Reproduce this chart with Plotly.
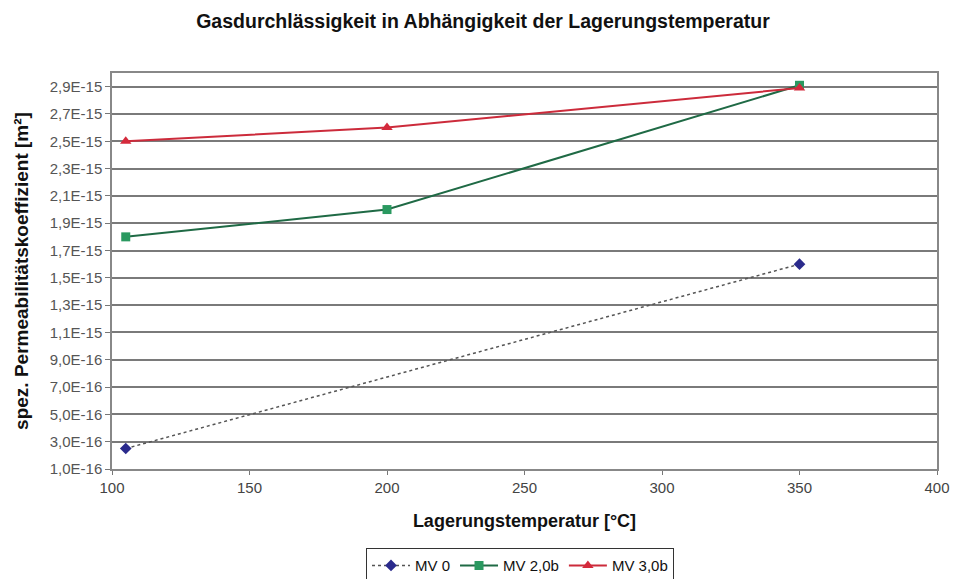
import plotly.graph_objects as go

# Data
x_mv0 = [105, 350]
y_mv0 = [2.5e-16, 1.6e-15]
x_mv2 = [105, 200, 350]
y_mv2 = [1.8e-15, 2.0e-15, 2.91e-15]
x_mv3 = [105, 200, 350]
y_mv3 = [2.5e-15, 2.6e-15, 2.89e-15]

y_tickvals = [1e-16 + i * 2e-16 for i in range(15)]
y_ticktext = ["1,0E-16", "3,0E-16", "5,0E-16", "7,0E-16", "9,0E-16", "1,1E-15", "1,3E-15",
              "1,5E-15", "1,7E-15", "1,9E-15", "2,1E-15", "2,3E-15", "2,5E-15", "2,7E-15", "2,9E-15"]
x_tickvals = [100, 150, 200, 250, 300, 350, 400]

fig = go.Figure()
fig.add_trace(go.Scatter(x=x_mv0, y=y_mv0, name="MV 0", mode="lines+markers",
                         line=dict(color="#555555", width=1.5, dash="dot"),
                         marker=dict(symbol="diamond", color="#2a2a8c", size=9)))
fig.add_trace(go.Scatter(x=x_mv2, y=y_mv2, name="MV 2,0b", mode="lines+markers",
                         line=dict(color="#1f6a45", width=2),
                         marker=dict(symbol="square", color="#2a9960", size=9)))
fig.add_trace(go.Scatter(x=x_mv3, y=y_mv3, name="MV 3,0b", mode="lines+markers",
                         line=dict(color="#cc2b3b", width=2),
                         marker=dict(symbol="triangle-up", color="#d42a3c", size=10)))

fig.update_layout(
    width=965, height=579,
    margin=dict(l=104, r=36, t=65, b=118, autoexpand=False),
    paper_bgcolor="white", plot_bgcolor="white",
    font=dict(family="Liberation Sans, Arial, sans-serif", color="#222"),
    title=dict(text="<b>Gasdurchlässigkeit in Abhängigkeit der Lagerungstemperatur</b>",
               x=(483 - 8) / 965, xanchor="center", y=1 - 13 / 579, yanchor="middle",
               font=dict(size=19.5, color="#111")),
    showlegend=True,
    legend=dict(orientation="h", x=(520 - 112) / 825, xanchor="center", y=-0.2, yanchor="top",
                bordercolor="#333", borderwidth=1, font=dict(size=15, color="#111"),
                itemwidth=38, tracegroupgap=0),
)
fig.update_xaxes(range=[100, 400], tickvals=x_tickvals, ticks="outside", ticklen=4,
                 tickcolor="#777", showgrid=False, showline=True, linecolor="#888", linewidth=1.5,
                 mirror=True, zeroline=False, tickfont=dict(size=15, color="#444"),
                 automargin=False,
                 title=dict(text="<b>Lagerungstemperatur [°C]</b>", font=dict(size=18, color="#111"),
                            standoff=20))
fig.update_yaxes(range=[1e-16, 3.0e-15], tickvals=y_tickvals, ticktext=y_ticktext,
                 ticks="outside", ticklen=5, tickcolor="#777",
                 showgrid=True, gridcolor="#7a7a7a", gridwidth=2,
                 showline=True, linecolor="#888", linewidth=1.5, mirror=True, zeroline=False,
                 tickfont=dict(size=15, color="#555"), automargin=False,
                 title=dict(text="<b>spez. Permeabilitätskoeffizient [m²]</b>",
                            font=dict(size=19, color="#111"), standoff=16))

fig.write_html("out.html")
